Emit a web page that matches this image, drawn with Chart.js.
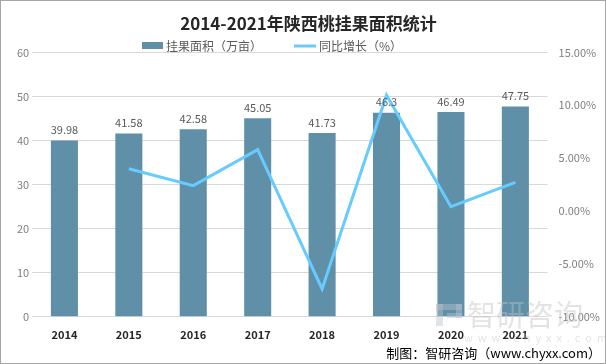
<!DOCTYPE html>
<html>
<head>
<meta charset="utf-8">
<script src="https://cdn.jsdelivr.net/npm/chart.js@4"></script>
<style>
  body { margin: 0; background: #fff; }
  #wrap { width: 604px; height: 362px; border: 1px solid #a6a6a6; position: relative; }
</style>
</head>
<body>
<div id="wrap"><canvas id="grafico" width="604" height="362"></canvas></div>
<script>
const anos = ["2014", "2015", "2016", "2017", "2018", "2019", "2020", "2021"];
const area = [39.98, 41.58, 42.58, 45.05, 41.73, 46.3, 46.49, 47.75]; // 万亩
const crescimento = [null, 0.04, 0.024, 0.058, -0.0737, 0.1095, 0.0041, 0.0271];
const fonte = "Noto Sans CJK SC";
const corBarra = "#5f90a8";
const corLinha = "#66ccff";

// legenda desenhada à mão + rótulos das barras + marca d'água + fonte dos dados
const extras = {
  id: "extras",
  beforeDatasetsDraw(chart) {
    const ctx = chart.ctx;
    ctx.save();
    // legenda
    ctx.font = "12px " + fonte;
    ctx.textBaseline = "middle";
    ctx.fillStyle = corBarra;
    ctx.fillRect(141, 41, 21, 7);
    ctx.fillStyle = "#595959";
    ctx.fillText("挂果面积（万亩）", 165, 45);
    ctx.strokeStyle = corLinha;
    ctx.lineWidth = 3;
    ctx.beginPath();
    ctx.moveTo(293, 45);
    ctx.lineTo(315, 45);
    ctx.stroke();
    ctx.fillText("同比增长（%）", 318, 45);
    ctx.restore();
  },
  afterDatasetsDraw(chart) {
    const ctx = chart.ctx;
    const meta = chart.getDatasetMeta(1);
    ctx.save();
    ctx.font = "11px " + fonte;
    ctx.fillStyle = "#595959";
    ctx.textAlign = "center";
    ctx.textBaseline = "bottom";
    meta.data.forEach((bar, i) => {
      ctx.fillText(String(area[i]), bar.x, bar.y - 5);
    });
    ctx.restore();
  },
  afterDraw(chart) {
    const ctx = chart.ctx;
    ctx.save();
    // marca d'água
    ctx.globalAlpha = 0.45;
    ctx.fillStyle = "#b8c4cc";
    ctx.fillRect(435, 303, 26, 6);
    ctx.fillRect(435, 303, 7, 22);
    ctx.fillRect(455, 303, 6, 14);
    ctx.fillRect(446, 312, 15, 5);
    ctx.fillStyle = "#c0c0c0";
    ctx.font = "29px " + fonte;
    ctx.textBaseline = "middle";
    ctx.fillText("智研咨询", 466, 314);
    ctx.font = "11px " + fonte;
    ctx.fillText("w  w  w  .  c  h  y  x  x  .  c  o  m", 463, 337);
    ctx.globalAlpha = 1;
    // fonte
    ctx.fillStyle = "#000";
    ctx.font = "13px " + fonte;
    ctx.textAlign = "right";
    ctx.fillText("制图：智研咨询（www.chyxx.com）", 600, 352);
    ctx.restore();
  }
};

new Chart(document.getElementById("grafico"), {
  data: {
    labels: anos,
    datasets: [
      {
        type: "line",
        label: "同比增长（%）",
        data: crescimento,
        yAxisID: "y2",
        borderColor: corLinha,
        backgroundColor: corLinha,
        borderWidth: 3,
        pointRadius: 0,
        tension: 0,
        order: 0,
      },
      {
        type: "bar",
        label: "挂果面积（万亩）",
        data: area,
        yAxisID: "y",
        backgroundColor: corBarra,
        barPercentage: 0.42,
        categoryPercentage: 1,
        order: 1,
      },
    ],
  },
  options: {
    responsive: false,
    animation: false,
    layout: { padding: { left: 13, right: 2, top: 8, bottom: 19 } },
    plugins: {
      title: {
        display: true,
        text: "2014-2021年陕西桃挂果面积统计",
        color: "#262626",
        font: { family: fonte, size: 17, weight: "bold" },
        padding: { top: 4, bottom: 19 },
      },
      legend: { display: false },
      tooltip: { enabled: false },
    },
    scales: {
      x: {
        grid: { display: false },
        border: { display: false },
        ticks: { color: "#262626", font: { family: fonte, size: 11, weight: "bold" } },
      },
      y: {
        position: "left",
        min: 0,
        max: 60,
        ticks: { stepSize: 10, color: "#7f7f7f", font: { family: fonte, size: 11 } },
        grid: { color: "#d9d9d9", drawTicks: false },
        border: { display: false },
      },
      y2: {
        position: "right",
        min: -0.1,
        max: 0.15,
        ticks: {
          stepSize: 0.05,
          color: "#7f7f7f",
          font: { family: fonte, size: 11 },
          callback: (v) => (v * 100).toFixed(2) + "%",
        },
        grid: { display: false },
        border: { display: false },
      },
    },
  },
  plugins: [extras],
});
</script>
</body>
</html>
